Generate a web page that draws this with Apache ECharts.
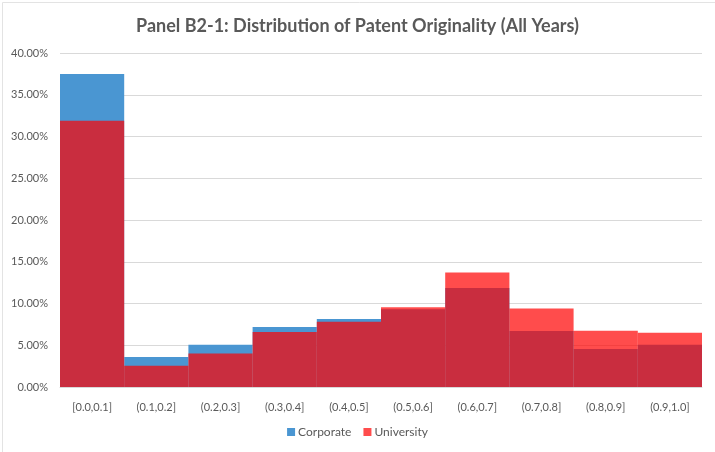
<!DOCTYPE html>
<html>
<head>
<meta charset="utf-8">
<script src="https://cdn.jsdelivr.net/npm/echarts@6/dist/echarts.min.js"></script>
<style>
  html, body { margin: 0; padding: 0; background: #fff; }
  #chart { width: 715px; height: 452px; }
</style>
</head>
<body>
<div id="chart"></div>
<script>
  // 区间分类
  const categories = ['[0.0,0.1]', '(0.1,0.2]', '(0.2,0.3]', '(0.3,0.4]', '(0.4,0.5]',
    '(0.5,0.6]', '(0.6,0.7]', '(0.7,0.8]', '(0.8,0.9]', '(0.9,1.0]'];
  // 百分比数据
  const corporate = [37.5, 3.6, 5.05, 7.2, 8.15, 9.3, 11.85, 6.7, 4.55, 5.05];
  const university = [31.9, 2.55, 4.0, 6.6, 7.8, 9.55, 13.7, 9.4, 6.75, 6.5];
  const yTicks = [0, 5, 10, 15, 20, 25, 30, 35, 40];

  const textColor = '#595959';
  const chart = echarts.init(document.getElementById('chart'));
  chart.setOption({
    animation: false,
    textStyle: { fontFamily: 'Lato, "Liberation Sans", sans-serif' },
    title: {
      text: 'Panel B2-1: Distribution of Patent Originality (All Years)',
      left: 'center',
      top: 12,
      textStyle: { fontSize: 18, fontWeight: 'bold', color: textColor, fontFamily: 'Lato, sans-serif' }
    },
    graphic: [{
      type: 'rect',
      shape: { x: 2.5, y: 2.5, width: 720, height: 460 },
      style: { fill: 'none', stroke: '#e3e3e3', lineWidth: 1 },
      silent: true
    }],
    legend: {
      bottom: 9,
      left: 'center',
      itemWidth: 8,
      itemHeight: 8,
      itemGap: 12,
      icon: 'rect',
      textStyle: { fontSize: 12, color: textColor, padding: [0, 0, 0, -2] },
      data: [
        { name: 'Corporate', itemStyle: { color: '#4a96d2', opacity: 1 } },
        { name: 'University', itemStyle: { color: '#ff4d4d', opacity: 1 } }
      ]
    },
    grid: { left: 60, right: 13, top: 53, bottom: 65 },
    xAxis: {
      type: 'category',
      data: categories,
      axisLine: { lineStyle: { color: '#d9d9d9' } },
      axisTick: { show: false },
      axisLabel: { color: textColor, fontSize: 11, margin: 15, interval: 0 }
    },
    yAxis: {
      type: 'value',
      min: yTicks[0],
      max: yTicks[yTicks.length - 1],
      interval: 5,
      axisLine: { show: false },
      axisTick: { show: false },
      splitLine: { lineStyle: { color: '#d9d9d9' } },
      axisLabel: {
        color: textColor,
        fontSize: 11,
        margin: 12,
        formatter: function (v) { return v.toFixed(2) + '%'; }
      }
    },
    series: [
      {
        name: 'Corporate',
        type: 'bar',
        barWidth: '100%',
        barGap: '-100%',
        itemStyle: { color: '#4a96d2' },
        data: corporate
      },
      {
        name: 'University',
        type: 'bar',
        barWidth: '100%',
        barGap: '-100%',
        itemStyle: { color: 'rgba(255,0,0,0.7)' },
        data: university
      }
    ]
  });
</script>
</body>
</html>
